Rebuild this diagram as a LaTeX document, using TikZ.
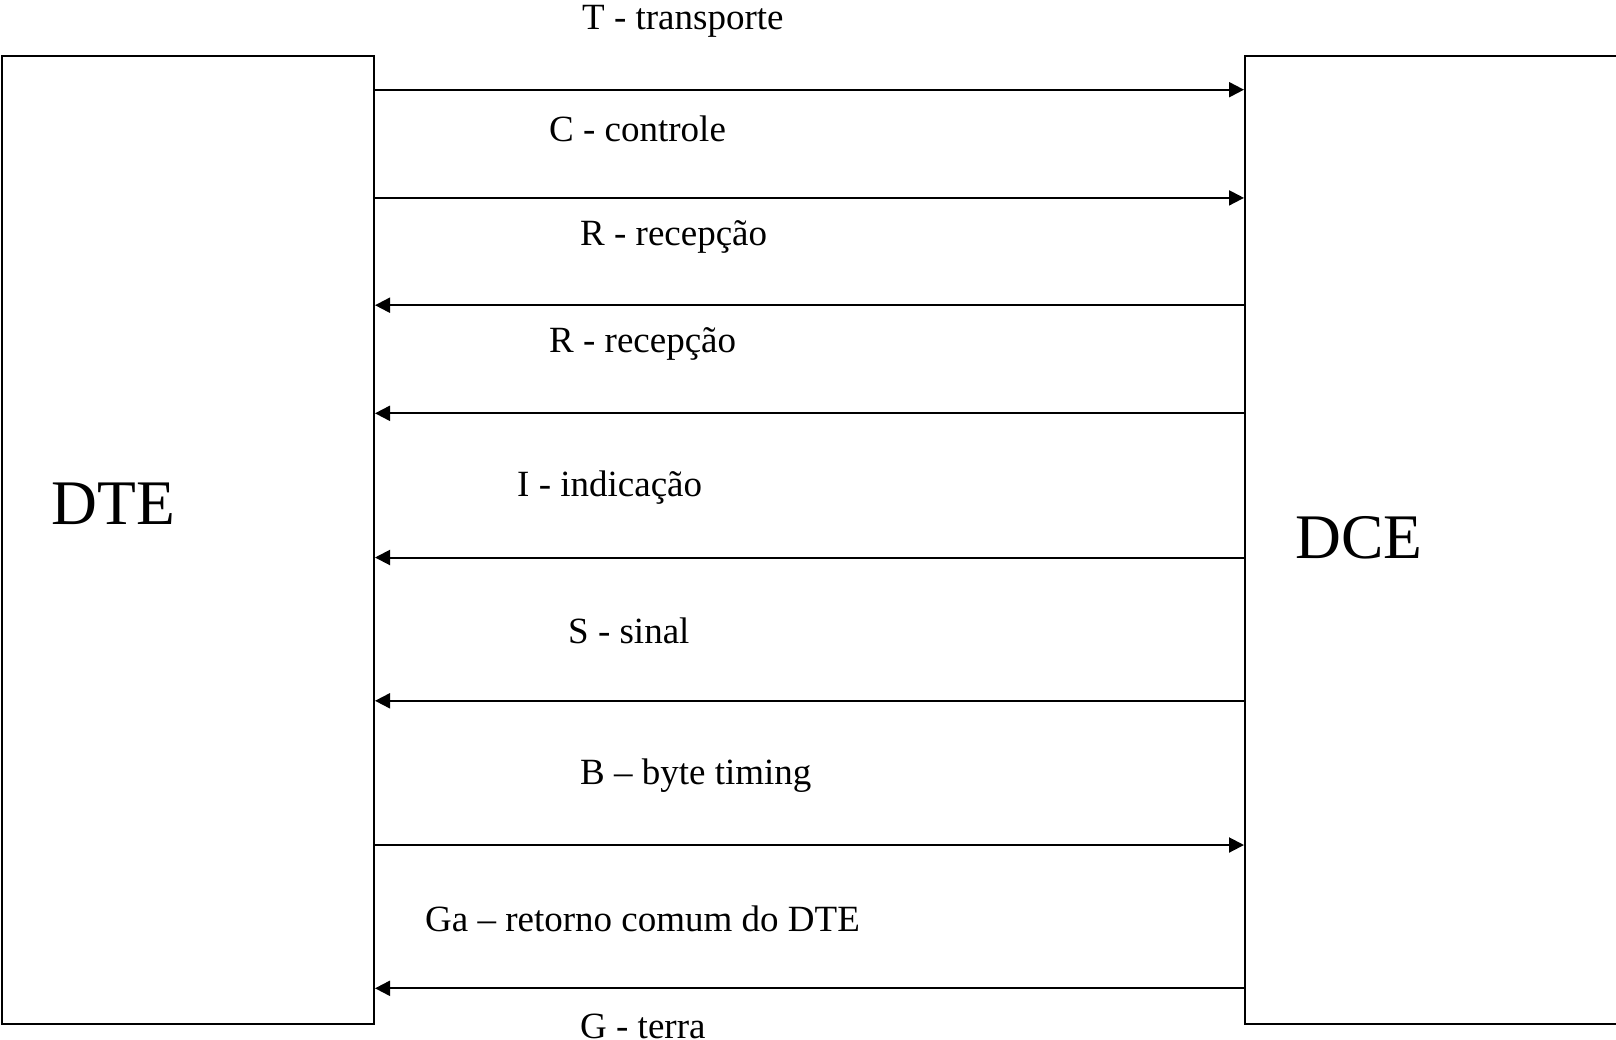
\documentclass[tikz,border=0pt]{standalone}
\usepackage{fontspec}
\setmainfont{Liberation Serif}
\usetikzlibrary{arrows.meta}
\begin{document}
\begin{tikzpicture}[x=1pt,y=-1pt,
  box/.style={draw,line width=2pt,inner sep=0pt,anchor=north west},
  sig/.style={line width=2pt,-{Triangle[length=15pt,width=15pt]}},
  lbl/.style={anchor=west,inner sep=0pt,font=\fontsize{37}{44}\selectfont},
  big/.style={anchor=west,inner sep=0pt,font=\fontsize{63.5}{70}\selectfont}]
\useasboundingbox (0,0) rectangle (1616,1039);
\begin{scope}
\clip (0,0) rectangle (1616,1039);
\node[box,minimum width=372pt,minimum height=968.5pt] (dte) at (1,54.5) {};
\node[box,minimum width=420pt,minimum height=968.5pt] (dce) at (1244,54.5) {};
\end{scope}
\node[big] (tdte) at (51.5,504) {DTE};
\node[big] (tdce) at (1295,538) {DCE};
% signal lines
\draw[sig] (dte.east |- {0,89.7}) -- (dce.west |- {0,89.7});
\draw[sig] (dte.east |- {0,197.9}) -- (dce.west |- {0,197.9});
\draw[sig] (dce.west |- {0,305.2}) -- (dte.east |- {0,305.2});
\draw[sig] (dce.west |- {0,413.3}) -- (dte.east |- {0,413.3});
\draw[sig] (dce.west |- {0,557.5}) -- (dte.east |- {0,557.5});
\draw[sig] (dce.west |- {0,700.8}) -- (dte.east |- {0,700.8});
\draw[sig] (dte.east |- {0,845}) -- (dce.west |- {0,845});
\draw[sig] (dce.west |- {0,988.3}) -- (dte.east |- {0,988.3});
% labels
\node[lbl] (l1) at (582,21) {T - transporte};
\node[lbl] (l2) at (549,128.5) {C - controle};
\node[lbl] (l3) at (580,236.5) {R - recepção};
\node[lbl] (l4) at (549,343.5) {R - recepção};
\node[lbl] (l5) at (517,487.5) {I - indicação};
\node[lbl] (l6) at (568,631) {S - sinal};
\node[lbl] (l7) at (580,775.5) {B – byte timing};
\node[lbl] (l8) at (425,919) {Ga – retorno comum do DTE};
\node[lbl] (l9) at (580,1026.5) {G - terra};
\end{tikzpicture}
\end{document}
